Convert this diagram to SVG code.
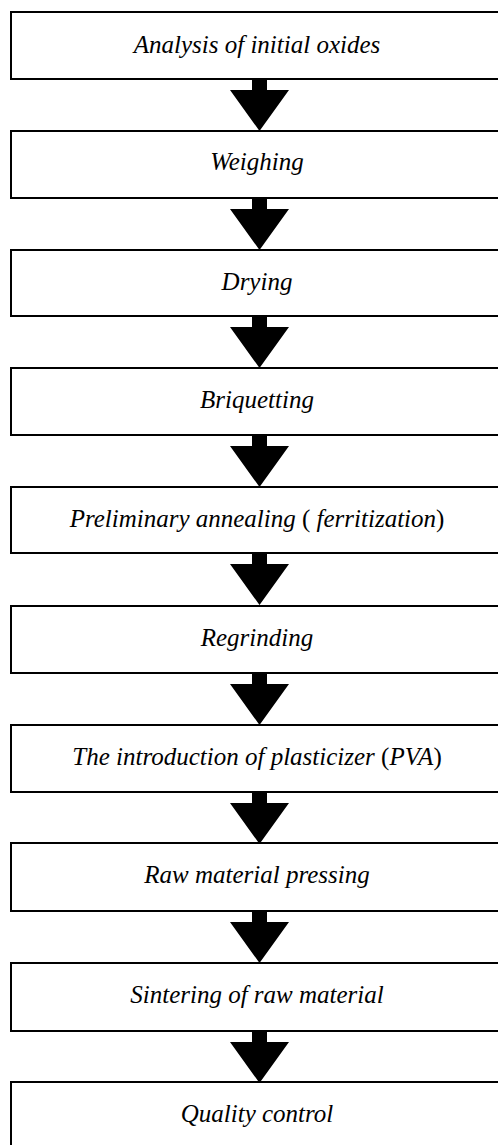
<svg xmlns="http://www.w3.org/2000/svg" width="498" height="1145" viewBox="0 0 498 1145">
<style>
.box{fill:#fff;stroke:#000;stroke-width:2}
.lbl{font-family:"Liberation Serif","Times New Roman",serif;font-style:italic;font-size:25px;fill:#000;text-anchor:middle}
.up{font-style:normal}
.arr{fill:#000}
</style>
<rect width="498" height="1145" fill="#fff"/>
<g id="connectors">
<path class="arr" d="M252 79h15v11h22l-29.5 41l-29.5-41h22z"/>
<path class="arr" d="M252 198h15v11h22l-29.5 41l-29.5-41h22z"/>
<path class="arr" d="M252 316h15v11h22l-29.5 41l-29.5-41h22z"/>
<path class="arr" d="M252 435h15v11h22l-29.5 41l-29.5-41h22z"/>
<path class="arr" d="M252 553h15v11h22l-29.5 41l-29.5-41h22z"/>
<path class="arr" d="M252 673h15v11h22l-29.5 41l-29.5-41h22z"/>
<path class="arr" d="M252 792h15v11h22l-29.5 41l-29.5-41h22z"/>
<path class="arr" d="M252 911h15v11h22l-29.5 41l-29.5-41h22z"/>
<path class="arr" d="M252 1031h15v11h22l-29.5 41l-29.5-41h22z"/>
</g>
<g id="n1"><rect class="box" x="11" y="12" width="500" height="67"/><text class="lbl" x="257" y="53">Analysis of initial oxides</text></g>
<g id="n2"><rect class="box" x="11" y="131" width="500" height="67"/><text class="lbl" x="257" y="170">Weighing</text></g>
<g id="n3"><rect class="box" x="11" y="250" width="500" height="66"/><text class="lbl" x="257" y="290">Drying</text></g>
<g id="n4"><rect class="box" x="11" y="368" width="500" height="67"/><text class="lbl" x="257" y="408">Briquetting</text></g>
<g id="n5"><rect class="box" x="11" y="487" width="500" height="66"/><text class="lbl" x="257" y="527">Preliminary annealing <tspan class="up">(</tspan> ferritization<tspan class="up">)</tspan></text></g>
<g id="n6"><rect class="box" x="11" y="606" width="500" height="67"/><text class="lbl" x="257" y="646">Regrinding</text></g>
<g id="n7"><rect class="box" x="11" y="725" width="500" height="67"/><text class="lbl" x="257" y="765">The introduction of plasticizer <tspan class="up">(</tspan>PVA<tspan class="up">)</tspan></text></g>
<g id="n8"><rect class="box" x="11" y="843" width="500" height="68"/><text class="lbl" x="257" y="883">Raw material pressing</text></g>
<g id="n9"><rect class="box" x="11" y="963" width="500" height="68"/><text class="lbl" x="257" y="1003">Sintering of raw material</text></g>
<g id="n10"><rect class="box" x="11" y="1082" width="500" height="80"/><text class="lbl" x="257" y="1122">Quality control</text></g>
</svg>
